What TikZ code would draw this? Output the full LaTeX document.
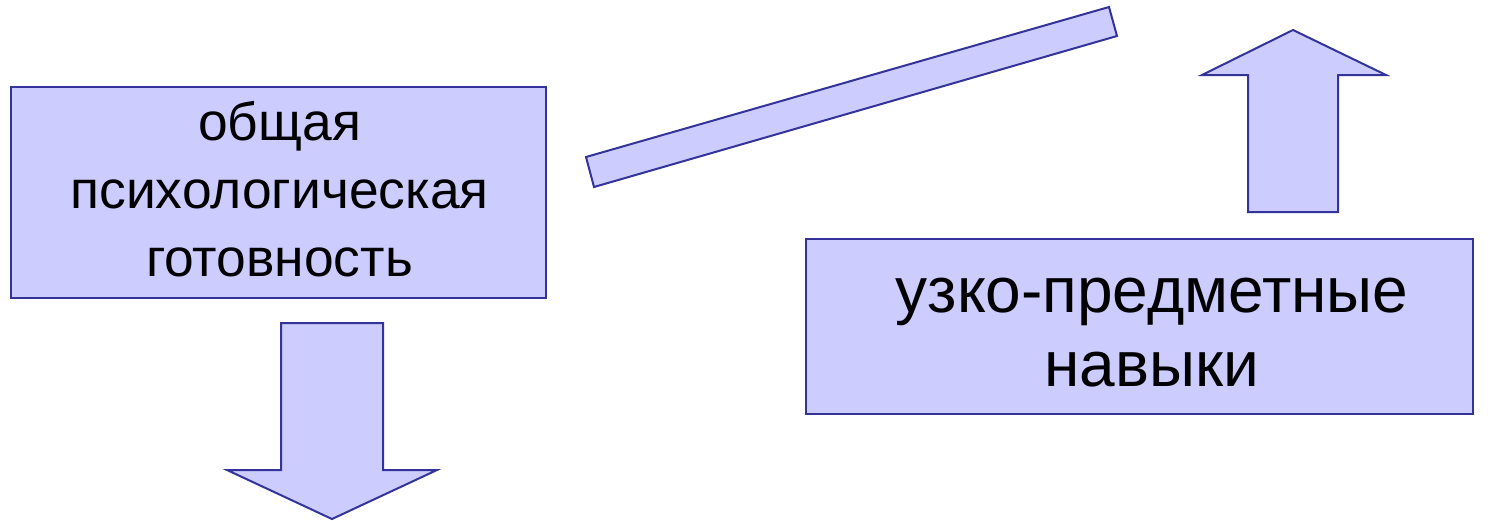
\documentclass[tikz,border=0pt]{standalone}
\usepackage{fontspec}
\setmainfont{Liberation Sans}
\definecolor{boxfill}{HTML}{CCCCFF}
\definecolor{boxline}{HTML}{333399}
\begin{document}
\begin{tikzpicture}[x=0.5pt,y=-0.5pt,
  shapestyle/.style={fill=boxfill,draw=boxline,line width=1pt,line join=miter},
  boxstyle/.style={shapestyle,rectangle,inner sep=0pt},
  labelstyle/.style={inner sep=0pt,align=center,text=black}]
\useasboundingbox (0,0) rectangle (1495,520);
% left box
\node[boxstyle,minimum width=267.5pt,minimum height=105.5pt] (psy) at (278.5,192.5) {};
\node[labelstyle,font=\fontsize{26.7pt}{34pt}\selectfont] (psytext) at (279.5,189)
  {общая\\психологическая\\готовность};
% right box
\node[boxstyle,minimum width=333.5pt,minimum height=87.5pt] (skills) at (1139.5,326.5) {};
\node[labelstyle,font=\fontsize{32pt}{37.2pt}\selectfont] (skillstext) at (1152,332.7)
  {узко-предметные\\навыки};
% slanted bar
\draw[shapestyle] (586,157) -- (1109,7) -- (1117,36) -- (594,187) -- cycle;
% up arrow
\draw[shapestyle] (1248,212) -- (1248,75) -- (1202,75) -- (1293,30) -- (1386,75) -- (1338,75) -- (1338,212) -- cycle;
% down arrow
\draw[shapestyle] (281,323) -- (383,323) -- (383,470) -- (437,470) -- (332,519) -- (227,470) -- (281,470) -- cycle;
\end{tikzpicture}
\end{document}
